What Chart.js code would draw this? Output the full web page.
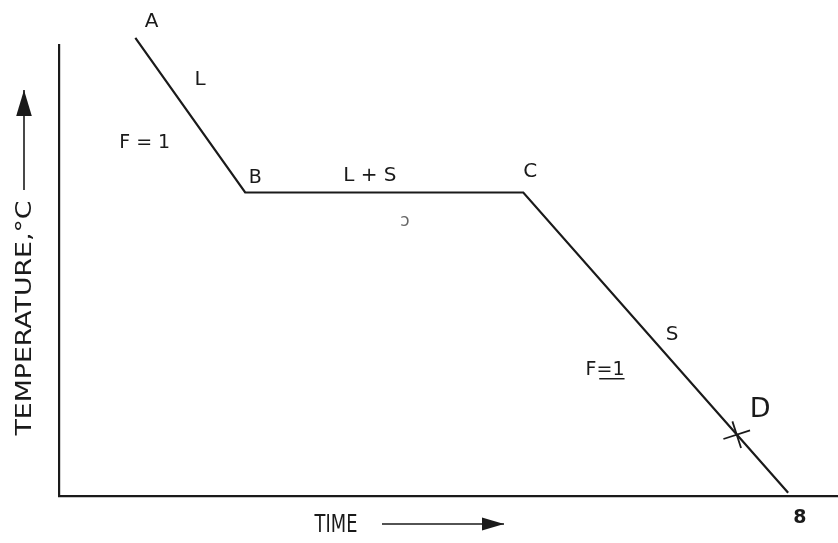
<!DOCTYPE html>
<html>
<head>
<meta charset="utf-8">
<script src="https://cdn.jsdelivr.net/npm/chart.js@4"></script>
<style>
  html, body { margin: 0; padding: 0; background: #fff; }
  #wrap { width: 838px; height: 543px; }
</style>
</head>
<body>
<div id="wrap"><canvas id="c" width="838" height="543"></canvas></div>
<script>
// Cooling curve: time vs temperature (arbitrary units)
const pointNames = ['A', 'B', 'C', 'end'];
const timeValues = [9.8, 23.9, 59.6, 93.6];
const tempValues = [101.6, 67.3, 67.3, 0.7];
const markerTime = [87.0];
const markerTemp = [13.6];
const xAxisTitle = 'TIME';
const yAxisTitle = 'TEMPERATURE,°C';

// annotation texts in data coordinates
const annoText = ['A', 'L', 'F = 1', 'B', 'L + S', 'ɔ', 'C', 'S', 'F=1', 'D', '8'];
const annoX    = [11.9, 18.1, 11.0, 25.2, 39.9, 44.4, 60.5, 78.7, 70.1, 90.0, 95.1];
const annoY    = [105.1, 92.2, 78.3, 70.5, 71.0, 60.8, 71.8, 35.7, 27.9, 19.1, -4.9];

const annoStyle = {
  'A': {size: 20}, 'L': {size: 20}, 'F = 1': {size: 19}, 'B': {size: 19},
  'L + S': {size: 20}, 'ɔ': {size: 17, color: '#666'}, 'C': {size: 20},
  'S': {size: 20}, 'F=1': {size: 19, underline: true}, 'D': {size: 27},
  '8': {size: 19, bold: true}
};

const curve = timeValues.map((t, i) => ({x: t, y: tempValues[i]}));
const marker = markerTime.map((t, i) => ({x: t, y: markerTemp[i]}));

const FONT = '"DejaVu Sans", "Liberation Sans", sans-serif';
const INK = '#1a1a1a';

function arrow(ctx, x1, y1, x2, y2, head) {
  ctx.beginPath();
  ctx.moveTo(x1, y1); ctx.lineTo(x2, y2); ctx.stroke();
  const a = Math.atan2(y2 - y1, x2 - x1);
  ctx.beginPath();
  ctx.moveTo(x2, y2);
  ctx.lineTo(x2 - head * Math.cos(a) + head * 0.3 * Math.sin(a), y2 - head * Math.sin(a) - head * 0.3 * Math.cos(a));
  ctx.lineTo(x2 - head * Math.cos(a) - head * 0.3 * Math.sin(a), y2 - head * Math.sin(a) + head * 0.3 * Math.cos(a));
  ctx.closePath(); ctx.fill();
}

const labelsPlugin = {
  id: 'labelsPlugin',
  afterDraw(chart) {
    const ctx = chart.ctx;
    const xs = chart.scales.x, ys = chart.scales.y;
    ctx.save();
    ctx.fillStyle = INK; ctx.strokeStyle = INK;
    ctx.textAlign = 'center'; ctx.textBaseline = 'middle';
    annoText.forEach((t, i) => {
      const st = annoStyle[t] || {size: 18};
      ctx.font = (st.bold ? 'bold ' : '') + st.size + 'px ' + FONT;
      ctx.fillStyle = st.color || INK;
      const px = xs.getPixelForValue(annoX[i]);
      const py = ys.getPixelForValue(annoY[i]);
      ctx.fillText(t, px, py);
      if (st.underline) {
        const w = ctx.measureText(t).width;
        ctx.lineWidth = 1.5;
        ctx.beginPath();
        ctx.moveTo(px - w / 2 + w * 0.35, py + st.size * 0.45);
        ctx.lineTo(px + w / 2, py + st.size * 0.45);
        ctx.stroke();
      }
    });
    ctx.fillStyle = INK;
    // x axis title + arrow
    ctx.font = '21px ' + FONT;
    ctx.save();
    ctx.translate(336, 526);
    ctx.scale(0.85, 1.15);
    ctx.fillText(xAxisTitle, 0, 0);
    ctx.restore();
    ctx.lineWidth = 1.6;
    arrow(ctx, 382, 524, 504, 524, 22);
    // y axis title (rotated) + arrow
    ctx.save();
    ctx.translate(25, 318);
    ctx.rotate(-Math.PI / 2);
    ctx.font = '22px ' + FONT;
    const w = ctx.measureText(yAxisTitle).width;
    ctx.scale(235 / w, 1);
    ctx.fillText(yAxisTitle, 0, 0);
    ctx.restore();
    arrow(ctx, 24, 190, 24, 90, 26);
    ctx.restore();
  }
};

new Chart(document.getElementById('c'), {
  type: 'scatter',
  data: {
    datasets: [
      {
        data: curve,
        showLine: true,
        borderColor: INK,
        borderWidth: 2.2,
        pointRadius: 0,
        tension: 0,
        clip: false
      },
      {
        data: marker,
        pointStyle: 'cross',
        rotation: 72,
        pointRadius: 14,
        borderColor: INK,
        borderWidth: 1.8,
        clip: false
      }
    ]
  },
  options: {
    responsive: false,
    animation: false,
    devicePixelRatio: 1,
    layout: { autoPadding: false, padding: { left: 59, right: 0, top: 45, bottom: 47 } },
    plugins: { legend: { display: false }, tooltip: { enabled: false } },
    scales: {
      x: {
        type: 'linear', min: 0, max: 100,
        grid: { display: false, drawTicks: false },
        ticks: { display: false },
        border: { display: true, color: INK, width: 2.2 },
        afterFit(s) { s.height = 0; }
      },
      y: {
        type: 'linear', min: 0, max: 100,
        grid: { display: false, drawTicks: false },
        ticks: { display: false },
        border: { display: true, color: INK, width: 2.2 },
        afterFit(s) { s.width = 0; }
      }
    }
  },
  plugins: [labelsPlugin]
});
</script>
</body>
</html>
